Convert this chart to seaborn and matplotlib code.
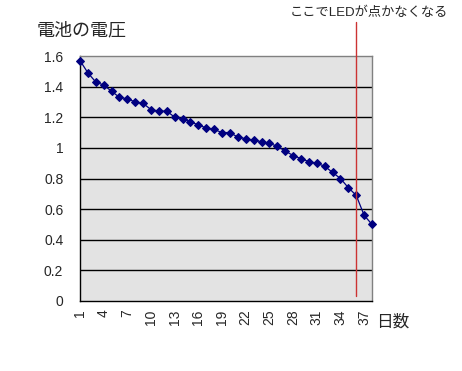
import matplotlib
matplotlib.use("Agg")
import matplotlib.pyplot as plt
import seaborn as sns
import pandas as pd

# 日ごとの電池電圧 (V)
days = list(range(1, 39))
voltage = [1.57, 1.49, 1.43, 1.41, 1.37, 1.33, 1.32, 1.30, 1.29, 1.25,
           1.24, 1.24, 1.20, 1.19, 1.17, 1.15, 1.13, 1.12, 1.10, 1.10,
           1.07, 1.06, 1.05, 1.04, 1.03, 1.01, 0.98, 0.95, 0.93, 0.91,
           0.90, 0.88, 0.84, 0.80, 0.74, 0.69, 0.56, 0.50]
led_off_day = 36
y_ticks = [0, 0.2, 0.4, 0.6, 0.8, 1, 1.2, 1.4, 1.6]
y_labels = ["0", "0.2", "0.4", "0.6", "0.8", "1", "1.2", "1.4", "1.6"]
x_label_days = list(range(1, 39, 3))

df = pd.DataFrame({"day": days, "voltage": voltage})

sns.set_style("white")
plt.rcParams["font.family"] = ["Liberation Sans", "Noto Sans CJK JP", "DejaVu Sans"]

fig = plt.figure(figsize=(4.62, 3.71), dpi=100)
ax = fig.add_axes([80 / 462, 70 / 371, 292 / 462, 245 / 371])
ax.set_facecolor("#e3e3e3")

for y in y_ticks[1:-1]:
    ax.axhline(y, color="black", lw=1.0, zorder=1)

sns.lineplot(data=df, x="day", y="voltage", ax=ax, color="#000080",
             marker="D", markersize=4.3, lw=0.9, markeredgecolor="#000080",
             zorder=3, clip_on=False)

# LEDが消えた日
ax.axvline(led_off_day, ymin=0.02, ymax=(301 - 22) / 245, color="#cc3333",
           lw=1.0, zorder=4, clip_on=False)

ax.set_xlim(1, 38)
ax.set_ylim(0, 1.6)
ax.set_yticks(y_ticks)
ax.set_yticklabels(y_labels, fontsize=10)
ax.set_xticks(days, minor=True)
ax.set_xticks(x_label_days)
ax.set_xticklabels([str(d) for d in x_label_days], rotation=90, fontsize=10)
ax.tick_params(axis="x", which="both", direction="in", length=4,
               width=0.8, color="black", pad=6)
ax.tick_params(axis="y", direction="out", length=0, pad=12)
ax.set_xlabel("")
ax.set_ylabel("")

for side in ["top", "right"]:
    ax.spines[side].set_color("#808080")
    ax.spines[side].set_linewidth(1.0)
for side in ["left", "bottom"]:
    ax.spines[side].set_color("black")
    ax.spines[side].set_linewidth(1.0)

fig.text(37 / 462, 1 - 31 / 371, "電池の電圧", fontsize=13, va="center", ha="left")
fig.text(376 / 462, 1 - 322 / 371, "日数", fontsize=12, va="center", ha="left")
fig.text(369 / 462, 1 - 13 / 371, "ここでLEDが点かなくなる", fontsize=9.5,
         va="center", ha="center")

fig.savefig("out.png", dpi=100)
